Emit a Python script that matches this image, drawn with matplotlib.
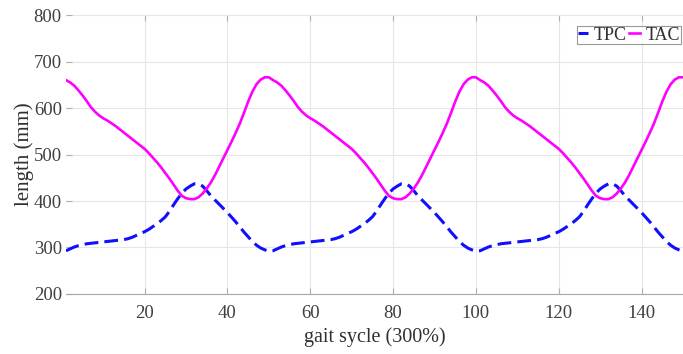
import numpy as np
import matplotlib
matplotlib.use("Agg")
import matplotlib.pyplot as plt

plt.rcParams['font.family'] = ['Liberation Serif', 'DejaVu Serif']

# one gait cycle (samples 1..50), repeated for three cycles (300%)
tac_cycle = [660, 655, 648, 638, 627, 615, 602, 592, 584, 578,
             573, 567, 561, 554, 547, 540, 533, 526, 519, 512,
             503, 493, 483, 472, 460, 448, 435, 422, 411, 406,
             404, 404, 408, 416, 427, 440, 456, 474, 492, 510,
             528, 547, 567, 590, 614, 635, 651, 661, 666, 666]
tpc_cycle = [293, 297, 301, 304, 306, 308, 309, 310, 311, 312,
             313, 314, 315, 316, 317, 319, 322, 326, 330, 334,
             339, 345, 351, 358, 366, 378, 392, 405, 417, 426,
             432, 437, 437, 432, 422, 411, 402, 393, 384, 375,
             365, 355, 344, 333, 323, 313, 305, 299, 295, 292]
n_cycles = 3
tac = tac_cycle * n_cycles
tpc = tpc_cycle * n_cycles
x = np.arange(1, len(tac) + 1)

xticks = [20, 40, 60, 80, 100, 120, 140]
yticks = [200, 300, 400, 500, 600, 700, 800]

fig = plt.figure(figsize=(6.83, 3.54), dpi=100)
ax = fig.add_axes([0.0966, 0.1695, 0.9034, 0.7881])

ax.plot(x, tpc, color='#1010ff', linestyle=(0, (4.5, 2.0)), linewidth=2.2, label='TPC')
ax.plot(x, tac, color='#ff00ff', linestyle='-', linewidth=1.9, label='TAC')

ax.set_xlim(1, 150)
ax.set_ylim(200, 800)
ax.set_xticks(xticks)
ax.set_yticks(yticks)
ax.grid(True, color='#e6e6e6', linewidth=0.8)
ax.set_axisbelow(True)

for s in ['left', 'top', 'right']:
    ax.spines[s].set_visible(False)
ax.spines['bottom'].set_color('#a8a8a8')
ax.tick_params(axis='both', direction='in', colors='#b0b0b0', labelcolor='#404040',
               labelsize=13.5, length=4, top=True)
ax.tick_params(axis='x', pad=8)
ax.tick_params(axis='y', pad=3)

ax.set_xlabel('gait sycle (300%)', fontsize=14.5, color='#303030', labelpad=4)
ax.set_ylabel('length (mm)', fontsize=15, color='#303030', labelpad=0)

leg = ax.legend(loc='upper right', bbox_to_anchor=(0.997, 0.962), ncol=2, fontsize=13,
                frameon=True, fancybox=False,
                handlelength=0.6, handletextpad=0.3, columnspacing=0.15,
                borderpad=0.05, borderaxespad=0.0, labelcolor='#303030')
leg.get_frame().set_edgecolor('#808080')
leg.get_frame().set_linewidth(0.8)

fig.savefig('out.png', dpi=100)
